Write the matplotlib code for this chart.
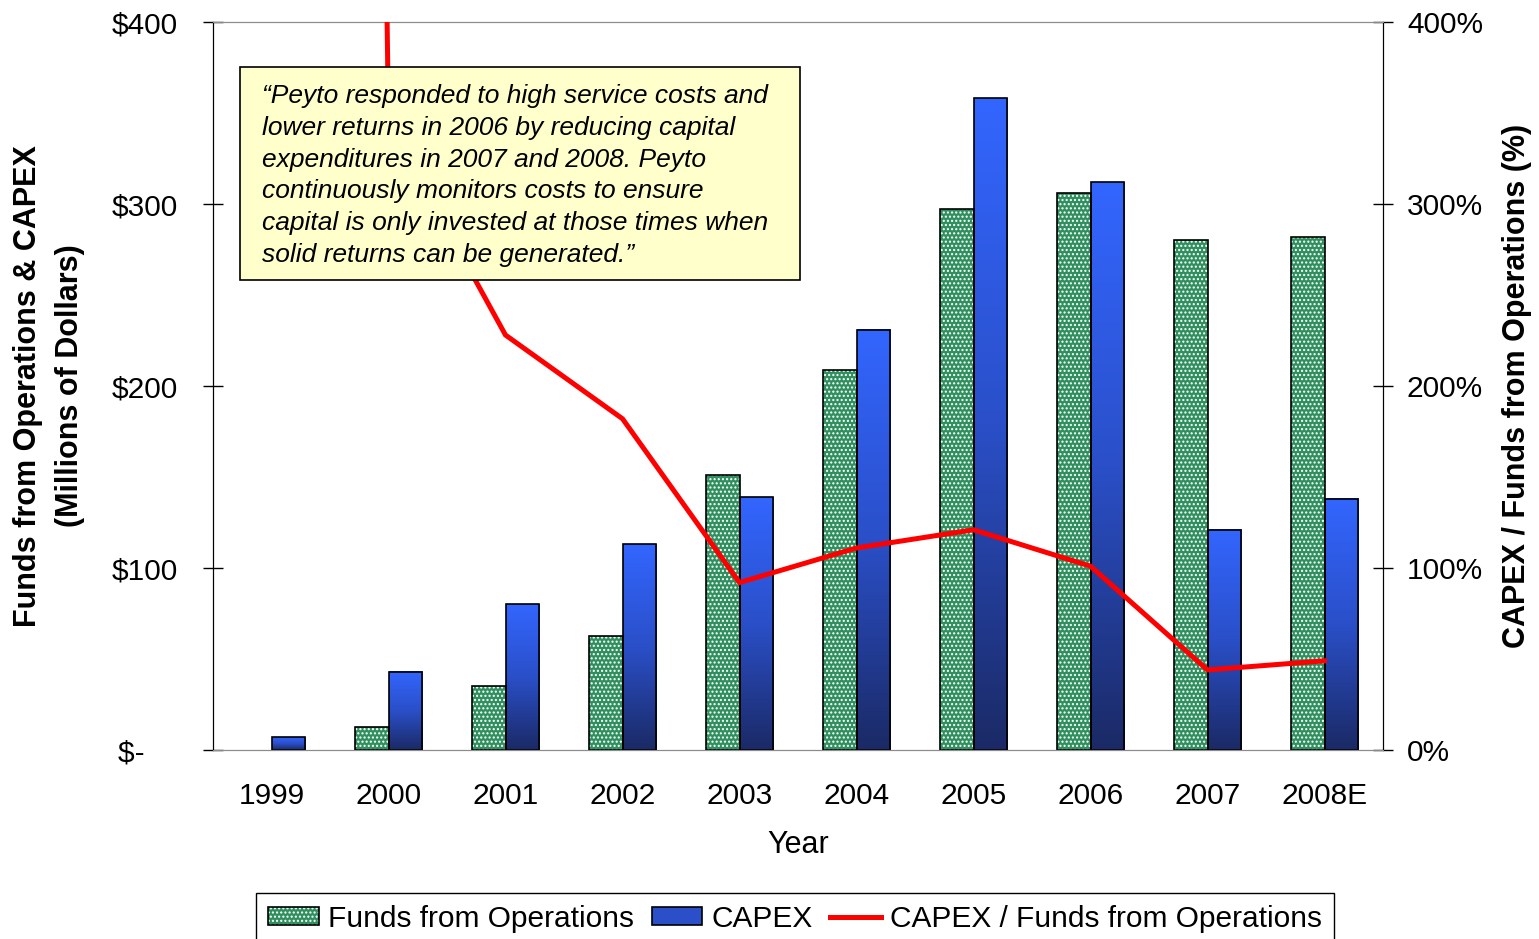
import matplotlib
matplotlib.use('Agg')
import matplotlib.pyplot as plt
import numpy as np
from matplotlib.patches import Patch, Rectangle
from matplotlib.lines import Line2D
from matplotlib.legend_handler import HandlerTuple
from matplotlib.colors import LinearSegmentedColormap

plt.rcParams['font.family'] = ['Liberation Sans', 'DejaVu Sans']
plt.rcParams['hatch.linewidth'] = 1.0

# data
years = ['1999', '2000', '2001', '2002', '2003', '2004', '2005', '2006', '2007', '2008E']
funds = [0, 12.6, 35, 62.6, 151, 209, 297, 306, 280, 282]        # $ millions
capex = [7, 43, 80, 113, 139, 231, 358, 312, 121, 138]           # $ millions
ratio = [5000, 345, 228, 182, 92, 111, 121, 101, 44, 49]         # % (1999 off the scale)

left_ticks = [0, 100, 200, 300, 400]
left_labels = ['$-    ', '$100', '$200', '$300', '$400']
right_ticks = [0, 100, 200, 300, 400]
right_labels = ['0%', '100%', '200%', '300%', '400%']

quote = ("\u201cPeyto responded to high service costs and\n"
         "lower returns in 2006 by reducing capital\n"
         "expenditures in 2007 and 2008. Peyto\n"
         "continuously monitors costs to ensure\n"
         "capital is only invested at those times when\n"
         "solid returns can be generated.\u201d")

green = '#2F8F5E'
red = '#FF0000'
cmap = LinearSegmentedColormap.from_list('capex', ['#1B2A66', '#2A4FC8', '#3366FF'])
fs = 21.5

W, H = 1539, 939
fig = plt.figure(figsize=(W / 100, H / 100), dpi=100)
ax = fig.add_axes([213 / W, 1 - 750 / H, 1170 / W, 728 / H])

x = np.arange(len(years))
w = 0.29

# funds: green with white dots, black outline on top
ax.bar(x - w / 2, funds, w, color=green, edgecolor='white', hatch='....',
       linewidth=0, zorder=2)
outline = ax.bar(x - w / 2, funds, w, fill=False, edgecolor='black',
                 linewidth=1.2, zorder=3)
for p, v in zip(outline, funds):
    if v <= 0:
        p.set_linewidth(0)

# capex: vertical blue gradient per bar
capex_bars = ax.bar(x + w / 2, capex, w, fill=False, edgecolor='black',
                    linewidth=1.2, zorder=3)
grad = np.linspace(0, 1, 256).reshape(-1, 1)
for b in capex_bars:
    x0, bw, bh = b.get_x(), b.get_width(), b.get_height()
    ax.imshow(grad, extent=(x0, x0 + bw, 0, bh), origin='lower', cmap=cmap,
              aspect='auto', zorder=2, interpolation='bilinear')

ax.set_xlim(-0.5, len(years) - 0.5)
ax.set_ylim(0, 400)
ax.set_xticks(x)
ax.set_xticklabels(years)
ax.set_yticks(left_ticks)
ax.set_yticklabels(left_labels)
ax.tick_params(axis='x', length=0, labelsize=fs, pad=23)
ax.tick_params(axis='y', direction='inout', length=14.4, width=1, labelsize=fs, pad=18)

ax2 = ax.twinx()
ax2.plot(x, ratio, color=red, lw=3.6, zorder=3, solid_joinstyle='miter')
ax2.set_ylim(0, 400)
ax2.set_yticks(right_ticks)
ax2.set_yticklabels(right_labels)
ax2.tick_params(axis='y', direction='inout', length=14.4, width=1, labelsize=fs, pad=10)

for a in (ax, ax2):
    a.spines['top'].set_color('#8C8C8C')
    a.spines['bottom'].set_color('#8C8C8C')
    a.spines['left'].set_color('black')
    a.spines['right'].set_color('black')

# axis titles
fig.text(49 / W, 1 - 386 / H, 'Funds from Operations & CAPEX\n(Millions of Dollars)',
         rotation=90, fontsize=22, fontweight='bold', ha='center', va='center',
         multialignment='center', linespacing=1.5)
fig.text(1517 / W, 1 - 386 / H, 'CAPEX / Funds from Operations (%)',
         rotation=90, fontsize=22, fontweight='bold', ha='center', va='center')
fig.text(798 / W, 1 - 845 / H, 'Year', fontsize=22, ha='center', va='center')

# quote box
fig.add_artist(Rectangle((240 / W, 1 - 280 / H), 560 / W, 213 / H,
                         transform=fig.transFigure, facecolor='#FFFFCC',
                         edgecolor='black', lw=1.2, zorder=10))
fig.text(262 / W, 1 - 84 / H, quote, fontsize=19, style='italic', ha='left',
         va='top', linespacing=1.41, zorder=11)

# legend
h_funds = (Patch(facecolor=green, edgecolor='white', hatch='....', linewidth=0),
           Patch(fill=False, edgecolor='black', linewidth=1.2))
h_capex = Patch(facecolor='#2A4FC8', edgecolor='black', linewidth=1.2)
h_ratio = Line2D([0], [0], color=red, lw=3.6)
fig.legend([h_funds, h_capex, h_ratio],
           ['Funds from Operations', 'CAPEX', 'CAPEX / Funds from Operations'],
           loc='upper center', bbox_to_anchor=(795 / W, 1 - 893 / H), ncol=3,
           fontsize=fs, frameon=True, fancybox=False, edgecolor='black',
           framealpha=1, handlelength=1.7, handleheight=0.55, columnspacing=0.6,
           handletextpad=0.3, borderaxespad=0,
           handler_map={tuple: HandlerTuple(ndivide=1)})

fig.savefig('out.png', dpi=100)
